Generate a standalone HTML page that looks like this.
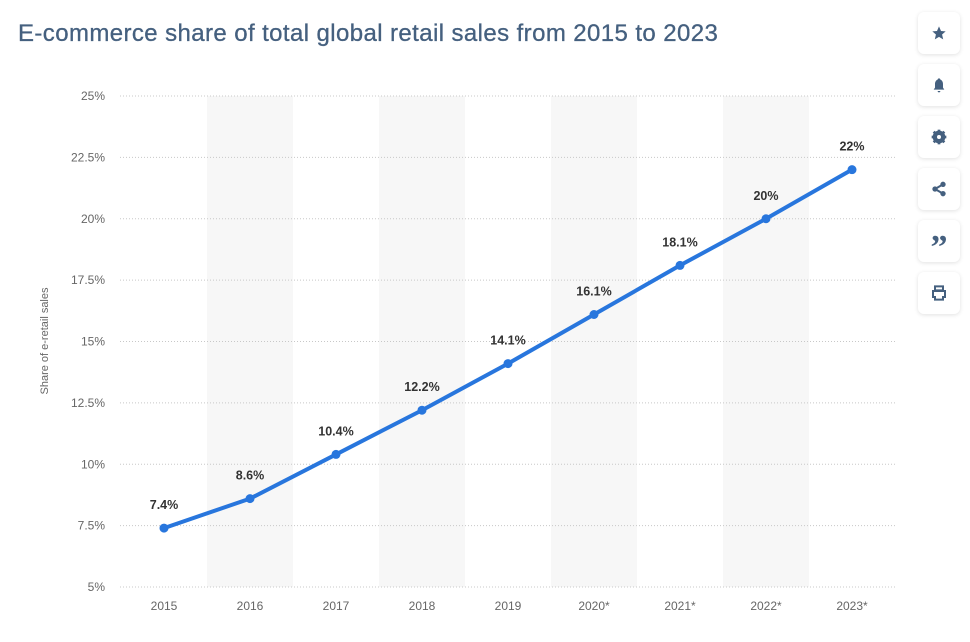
<!DOCTYPE html>
<html><head><meta charset="utf-8"><style>
body{margin:0;width:970px;height:642px;background:#fff;font-family:"Liberation Sans",sans-serif;overflow:hidden;position:relative}
h1{position:absolute;left:18px;top:20px;margin:0;font-size:24px;font-weight:normal;color:#45607f;letter-spacing:0.4px;-webkit-text-stroke:0.3px #45607f}
.btn{position:absolute;left:918px;width:42px;height:42px;background:#fff;border-radius:6px;box-shadow:0 1px 4px rgba(0,0,0,0.12);display:flex;align-items:center;justify-content:center}
svg text{font-family:"Liberation Sans",sans-serif}
</style></head><body>
<h1>E-commerce share of total global retail sales from 2015 to 2023</h1>
<svg id="chart" width="910" height="642" style="position:absolute;left:0;top:0"></svg>
<div class="btn" style="top:12px"><svg width="16" height="16" viewBox="0 0 24 24"><path d="M12 2l3 7 7 .6-5.4 4.7 1.7 7.2L12 17.8 5.7 21.5l1.7-7.2L2 9.6 9 9z" fill="#45607f"/></svg></div>
<div class="btn" style="top:64px"><svg width="16" height="16" viewBox="0 0 24 24"><path d="M12 2a2 2 0 012 2c3 1 4 4 4 7v5l2 3H4l2-3v-5c0-3 1-6 4-7a2 2 0 012-2zM10 21h4a2 2 0 01-4 0z" fill="#45607f"/></svg></div>
<div class="btn" style="top:116px"><svg width="16" height="16" viewBox="0 0 24 24"><circle cx="12" cy="12" r="7" fill="none" stroke="#45607f" stroke-width="5"/><g stroke="#45607f" stroke-width="4"><line x1="12" y1="1" x2="12" y2="23"/><line x1="1" y1="12" x2="23" y2="12"/><line x1="4" y1="4" x2="20" y2="20"/><line x1="20" y1="4" x2="4" y2="20"/></g><circle cx="12" cy="12" r="3" fill="#fff"/></svg></div>
<div class="btn" style="top:168px"><svg width="16" height="16" viewBox="0 0 24 24"><g fill="#45607f"><circle cx="18" cy="5" r="4"/><circle cx="6" cy="12" r="4"/><circle cx="18" cy="19" r="4"/></g><path d="M18 5L6 12l12 7" stroke="#45607f" stroke-width="3" fill="none"/></svg></div>
<div class="btn" style="top:220px"><span style="font:bold 34px 'Liberation Serif',serif;color:#45607f;line-height:1;margin-top:14px">”</span></div>
<div class="btn" style="top:272px"><svg width="16" height="16" viewBox="0 0 24 24"><path d="M6 2h12v6H6z M3 9h18v9h-3v4H6v-4H3z" fill="none" stroke="#45607f" stroke-width="3"/></svg></div>
<script>
const categories=["2015","2016","2017","2018","2019","2020*","2021*","2022*","2023*"];
const values=[7.4,8.6,10.4,12.2,14.1,16.1,18.1,20,22];
const valueLabels=["7.4%","8.6%","10.4%","12.2%","14.1%","16.1%","18.1%","20%","22%"];
const yTicks=[5,7.5,10,12.5,15,17.5,20,22.5,25];
const yTickLabels=["5%","7.5%","10%","12.5%","15%","17.5%","20%","22.5%","25%"];
const svg=document.getElementById('chart');const NS='http://www.w3.org/2000/svg';
const x=i=>164+i*86;const y=v=>587-(v-5)*(491/20);
function mk(t,a,p){const e=document.createElementNS(NS,t);for(const k in a)e.setAttribute(k,a[k]);(p||svg).appendChild(e);return e;}
categories.forEach((c,i)=>{if(i%2==1){const r=mk('rect',{x:x(i)-43,y:96,width:86,height:491,fill:'#f7f7f7'});

}});
yTicks.forEach((v,i)=>{const l=mk('line',{x1:120,x2:895,y1:y(v),y2:y(v),stroke:'#c8c8c8','stroke-dasharray':'1 2'});


const t=mk('text',{x:105,y:y(v)+4,'text-anchor':'end','font-size':12,fill:'#666'});t.textContent=yTickLabels[i];

});
categories.forEach((c,i)=>{const t=mk('text',{x:x(i),y:610,'text-anchor':'middle','font-size':12,fill:'#666'});t.textContent=c;

});
const yt=mk('text',{transform:'translate(48,341) rotate(-90)','text-anchor':'middle','font-size':11,fill:'#666'});yt.textContent='Share of e-retail sales';


const p=mk('polyline',{points:values.map((v,i)=>x(i)+','+y(v)).join(' '),fill:'none',stroke:'#2876dd','stroke-width':4,'stroke-linejoin':'round'});


values.forEach((v,i)=>{const c=mk('circle',{cx:x(i),cy:y(v),r:4.5,fill:'#2876dd'});


const t=mk('text',{x:x(i),y:y(v)-19,'text-anchor':'middle','font-size':12.5,'font-weight':'bold',fill:'#333'});t.textContent=valueLabels[i];

});
</script>
</body></html>
